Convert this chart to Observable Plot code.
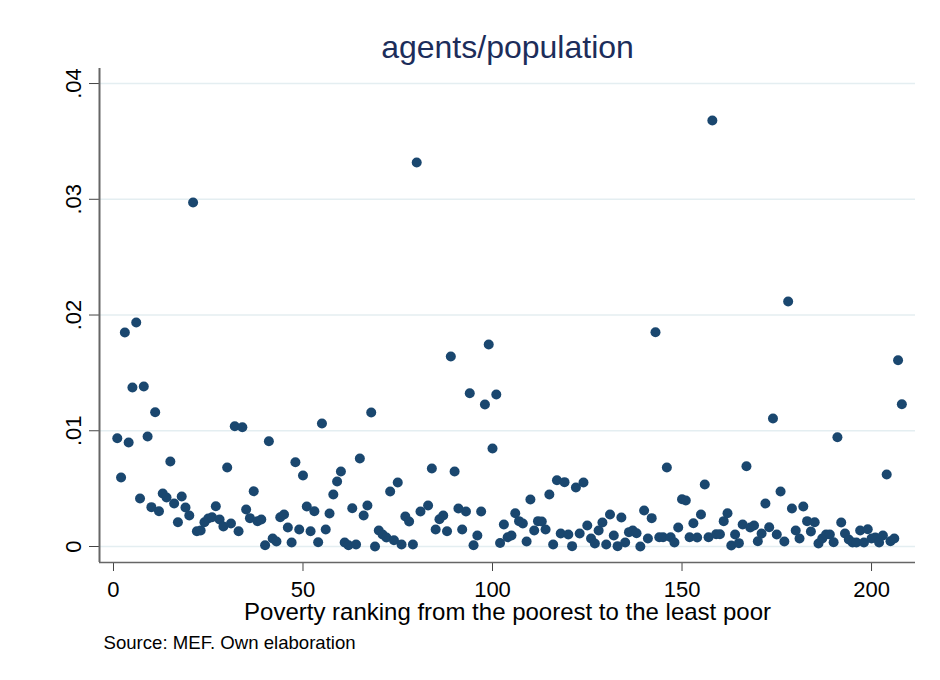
<!DOCTYPE html>
<html><head><meta charset="utf-8">
<script src="https://cdn.jsdelivr.net/npm/d3@7"></script>
<script src="https://cdn.jsdelivr.net/npm/@observablehq/plot@0.6"></script>
<style>body{margin:0;background:#fff}</style>
</head><body><div id="chart"></div>
<script>
const title = "agents/population";
const xTitle = "Poverty ranking from the poorest to the least poor";
const caption = "Source: MEF. Own elaboration";
const xTicks = [0, 50, 100, 150, 200];
const yTicks = [0, 0.01, 0.02, 0.03, 0.04];
const yTickLabels = ["0", ".01", ".02", ".03", ".04"];

const rank = [
  1,2,3,4,5,6,7,8,9,10,11,12,13,14,15,16,17,18,19,20,
  21,22,23,24,25,26,27,28,29,30,31,32,33,34,35,36,37,38,39,40,
  41,42,43,44,45,46,47,48,49,50,51,52,53,54,55,56,57,58,59,60,
  61,62,63,64,65,66,67,68,69,70,71,72,73,74,75,76,77,78,79,80,
  81,83,84,85,86,87,88,89,90,91,92,93,94,95,96,97,98,99,100,
  101,102,103,104,105,106,107,108,109,110,111,112,113,114,115,116,117,118,119,120,
  121,122,123,124,125,126,127,128,129,130,131,132,133,134,135,136,137,138,139,140,
  141,142,143,144,145,146,147,148,149,150,151,152,153,154,155,156,157,158,159,160,
  161,162,163,164,165,166,167,168,169,170,171,172,173,174,175,176,177,178,179,180,
  181,182,183,184,185,186,187,188,189,190,191,192,193,194,195,196,197,198,199,200,
  201,202,203,204,205,206,207,208
];
const ratio = [
  .00936,.00596,.01849,.00898,.01374,.01935,.00415,.01382,.00950,.00340,
  .01160,.00305,.00458,.00423,.00734,.00371,.00210,.00432,.00337,.00268,
  .02972,.00132,.00138,.00210,.00242,.00253,.00348,.00233,.00173,.00683,
  .00199,.01039,.00132,.01031,.00320,.00245,.00478,.00219,.00233,.00011,
  .00910,.00069,.00043,.00253,.00276,.00164,.00035,.00728,.00147,.00613,
  .00346,.00132,.00305,.00037,.01063,.00147,.00285,.00449,.00562,.00648,
  .00035,.00011,.00331,.00017,.00760,.00268,.00354,.01158,.00000,.00138,
  .00104,.00078,.00475,.00054,.00553,.00017,.00259,.00216,.00017,.03318,
  .00302,.00354,.00674,.00147,.00236,.00268,.00132,.01641,.00648,
  .00328,.00147,.00302,.01324,.00011,.00095,.00302,.01227,.01745,.00847,
  .01313,.00030,.00190,.00080,.00095,.00288,.00219,.00199,.00043,.00406,
  .00138,.00219,.00216,.00147,.00449,.00017,.00573,.00112,.00556,.00104,
  .00003,.00510,.00112,.00553,.00181,.00069,.00026,.00138,.00207,.00017,
  .00276,.00095,.00003,.00251,.00035,.00124,.00138,.00115,.00000,.00311,
  .00069,.00245,.01851,.00080,.00080,.00683,.00080,.00035,.00164,.00409,
  .00397,.00080,.00201,.00078,.00276,.00536,.00080,.03680,.00106,.00106,
  .00219,.00288,.00009,.00104,.00029,.00190,.00694,.00164,.00181,.00046,
  .00112,.00371,.00167,.01106,.00104,.00475,.00043,.02117,.00328,.00138,
  .00069,.00346,.00219,.00130,.00210,.00026,.00069,.00104,.00104,.00037,
  .00944,.00207,.00112,.00060,.00035,.00035,.00138,.00035,.00149,.00069,
  .00078,.00035,.00095,.00622,.00046,.00069,.01610,.01229
];

const data = rank.map((r, i) => ({rank: r, ratio: ratio[i]}));
const xMin = -3.69, xMax = 211.6, yMin = -0.001382, yMax = 0.0413;

const chart = Plot.plot({
  width: 940,
  height: 680,
  marginLeft: 99,
  marginRight: 25,
  marginTop: 68,
  marginBottom: 118,
  style: {fontFamily: "'Liberation Sans', Arial, sans-serif", background: "#fff", color: "#000"},
  x: {domain: [xMin, xMax]},
  y: {domain: [yMin, yMax]},
  marks: [
    Plot.gridY(yTicks, {stroke: "#e4eef1", strokeOpacity: 1, strokeWidth: 1.5}),
    Plot.axisY(yTicks, {
      anchor: "left", tickSize: 10, tickPadding: 9, tickRotate: -90,
      tickFormat: d => yTickLabels[yTicks.indexOf(d)],
      fontSize: 22, label: null, stroke: "#444", fill: "#000"
    }),
    Plot.axisX(xTicks, {
      anchor: "bottom", tickSize: 9, tickPadding: 10,
      fontSize: 22, label: null, stroke: "#444", fill: "#000"
    }),
    Plot.ruleX([xMin], {stroke: "#666", strokeWidth: 2}),
    Plot.ruleY([yMin], {stroke: "#666", strokeWidth: 1.5}),
    Plot.dot(data, {x: "rank", y: "ratio", r: 5, fill: "#1a476f", stroke: "none"}),
    Plot.text([title], {frameAnchor: "top", dy: -11, lineAnchor: "bottom", fontSize: 32, fill: "#1c2d5a"}),
    Plot.text([xTitle], {frameAnchor: "bottom", dy: 57, lineAnchor: "bottom", fontSize: 24, fill: "#000"}),
    Plot.text([caption], {frameAnchor: "bottom-left", dx: 4, dy: 86, lineAnchor: "bottom", textAnchor: "start", fontSize: 18.6, fill: "#000"})
  ]
});
document.getElementById("chart").appendChild(chart);
</script>
</body></html>
